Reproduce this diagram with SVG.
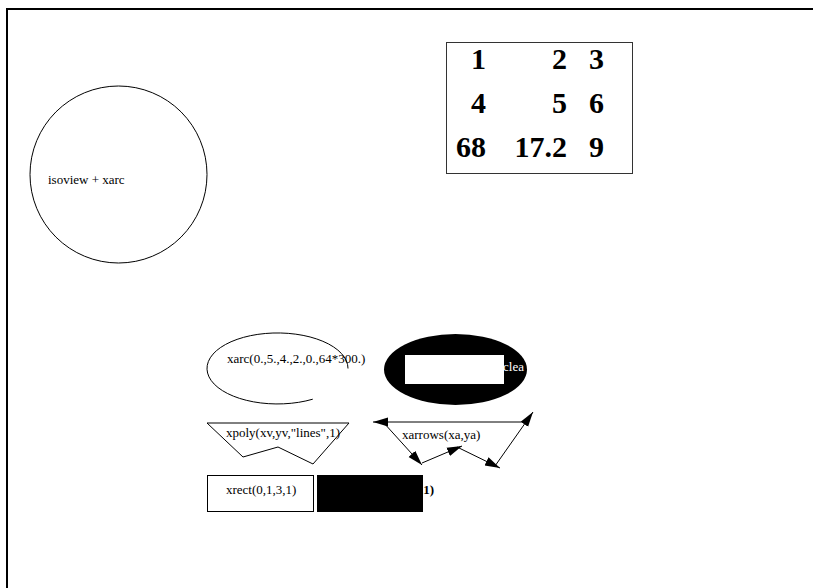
<svg xmlns="http://www.w3.org/2000/svg" width="813" height="588" viewBox="0 0 813 588">
<style>
text{font-family:'Liberation Serif','Times New Roman','DejaVu Serif',serif}
.lbl{font-size:13px;fill:#000}
.num{font-size:30px;font-weight:bold;fill:#000;text-anchor:end}
.ln{fill:none;stroke:#000;stroke-width:1}
</style>
<defs>
<marker id="ah" viewBox="0 0 10 10" refX="10" refY="5" markerWidth="15" markerHeight="15" markerUnits="userSpaceOnUse" orient="auto">
<path d="M0,2 L10,5 L0,8 z" fill="#000"/>
</marker>
</defs>
<rect x="0" y="0" width="813" height="588" fill="#fff"/>
<g id="frame">
<path d="M7,588 L7,9 L813,9" fill="none" stroke="#000" stroke-width="2"/>
</g>
<g id="circle">
<circle cx="118.5" cy="174.5" r="88.5" class="ln" stroke-width="1.2"/>
<text class="lbl" x="48" y="184" font-family="Liberation Serif, serif">isoview + xarc</text>
</g>
<g id="table">
<rect x="446.5" y="42.5" width="186" height="131" fill="none" stroke="#333" stroke-width="1"/>
<text class="num" x="486" y="69">1</text>
<text class="num" x="567" y="69">2</text>
<text class="num" x="604" y="69">3</text>
<text class="num" x="486" y="113">4</text>
<text class="num" x="567" y="113">5</text>
<text class="num" x="604" y="113">6</text>
<text class="num" x="486" y="157">68</text>
<text class="num" x="567" y="157">17.2</text>
<text class="num" x="604" y="157">9</text>
</g>
<g id="xarc">
<path class="ln" d="M348,368.5 A70.5,35.5 0 1 0 312.75,399.2"/>
<text class="lbl" x="227" y="363">xarc(0.,5.,4.,2.,0.,64*300.)</text>
</g>
<g id="xfarc">
<ellipse cx="455.5" cy="369.5" rx="71.5" ry="35.5" fill="#000"/>
<rect x="405" y="355" width="99" height="29" fill="#fff"/>
<text class="lbl" x="503" y="371" style="fill:#fff">clea</text>
</g>
<g id="xpoly">
<path class="ln" d="M207,423 L349,423 L313,464 L278,447 L243,457 Z"/>
<text class="lbl" x="226" y="437">xpoly(xv,yv,"lines",1)</text>
</g>
<g id="connectors">
<line class="ln" x1="523" y1="422" x2="373" y2="422" marker-end="url(#ah)"/>
<line class="ln" x1="383" y1="422" x2="422" y2="465" marker-end="url(#ah)"/>
<line class="ln" x1="422" y1="463" x2="462" y2="446" marker-end="url(#ah)"/>
<line class="ln" x1="457" y1="447" x2="500" y2="468" marker-end="url(#ah)"/>
<line class="ln" x1="495" y1="466" x2="533" y2="412" marker-end="url(#ah)"/>
</g>
<g id="xarrows">
<text class="lbl" x="402" y="439">xarrows(xa,ya)</text>
</g>
<g id="xrect">
<rect x="207.5" y="475.5" width="106" height="36" class="ln"/>
<text class="lbl" x="226" y="494">xrect(0,1,3,1)</text>
</g>
<g id="xfrect">
<text class="lbl" x="420" y="494" font-weight="bold">,1)</text>
<rect x="317" y="475" width="106" height="37" fill="#000"/>
</g>
</svg>
